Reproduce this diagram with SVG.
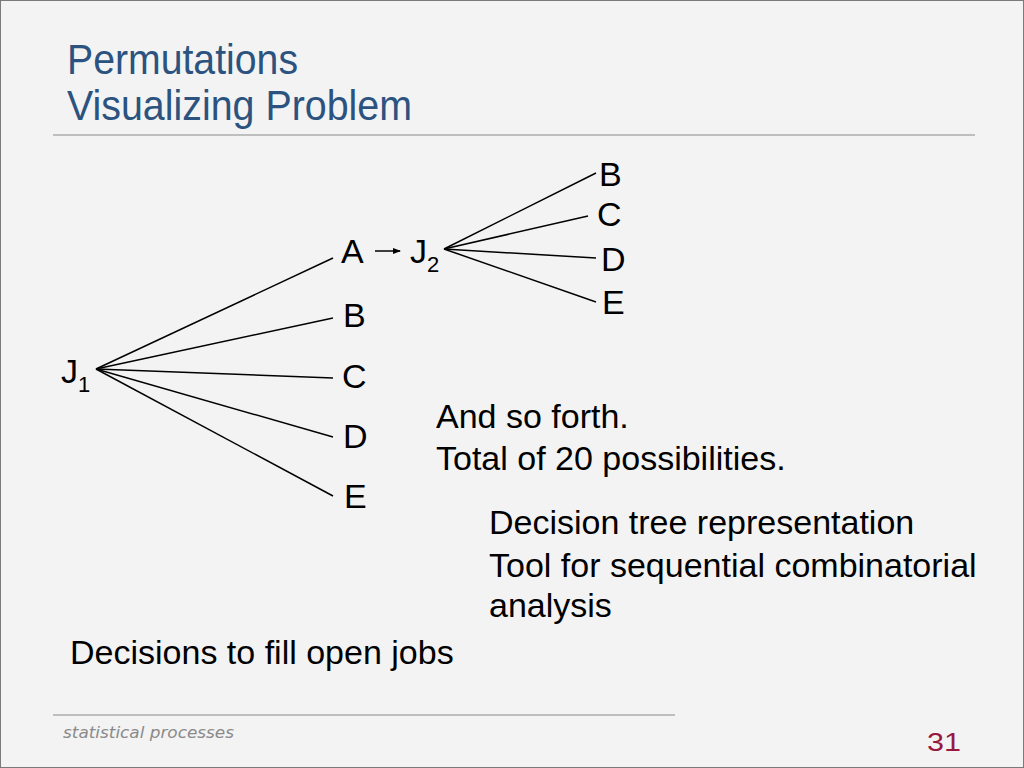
<svg xmlns="http://www.w3.org/2000/svg" width="1024" height="768" viewBox="0 0 1024 768">
<style>
.t{font-family:"Liberation Sans",Arial,sans-serif;font-size:34px;fill:#000}
.title{font-family:"Liberation Sans",Arial,sans-serif;font-size:42px;fill:#2c5380}
.sub{font-size:22px}
.edge{stroke:#000;stroke-width:1.5;fill:none}
</style>
<defs>
<marker id="ah" markerWidth="8" markerHeight="6" refX="7" refY="3" orient="auto" markerUnits="userSpaceOnUse">
<path d="M0,0 L8,3 L0,6 Z" fill="#000"/>
</marker>
</defs>
<rect x="0" y="0" width="1024" height="768" fill="#f3f3f3"/>
<rect x="0.5" y="0.5" width="1023" height="767" fill="none" stroke="#7a7a7a" stroke-width="1"/>
<g id="title">
<text class="title" x="67" y="74" textLength="231" lengthAdjust="spacingAndGlyphs">Permutations</text>
<text class="title" x="67" y="120" textLength="345" lengthAdjust="spacingAndGlyphs">Visualizing Problem</text>
<line x1="53" y1="135" x2="975" y2="135" stroke="#8a8a8a" stroke-width="1.2"/>
</g>
<g id="connectors">
<line class="edge" x1="96" y1="369" x2="333" y2="258"/>
<line class="edge" x1="96" y1="369" x2="333" y2="318"/>
<line class="edge" x1="96" y1="369" x2="333" y2="378"/>
<line class="edge" x1="96" y1="369" x2="333" y2="437"/>
<line class="edge" x1="96" y1="369" x2="333" y2="496"/>
<line class="edge" x1="444" y1="249" x2="596" y2="173"/>
<line class="edge" x1="444" y1="249" x2="588" y2="216"/>
<line class="edge" x1="444" y1="249" x2="596" y2="258"/>
<line class="edge" x1="444" y1="249" x2="596" y2="302"/>
<line class="edge" x1="375" y1="251" x2="400" y2="251" stroke-width="1.2" marker-end="url(#ah)"/>
</g>
<g id="node-J1"><text class="t" x="61" y="383">J<tspan class="sub" dy="9">1</tspan></text></g>
<g id="node-A"><text class="t" x="341" y="263">A</text></g>
<g id="node-B1"><text class="t" x="343" y="327">B</text></g>
<g id="node-C1"><text class="t" x="342" y="388">C</text></g>
<g id="node-D1"><text class="t" x="343" y="448">D</text></g>
<g id="node-E1"><text class="t" x="344" y="508">E</text></g>
<g id="node-J2"><text class="t" x="410" y="263">J<tspan class="sub" dy="9">2</tspan></text></g>
<g id="node-B2"><text class="t" x="599" y="186">B</text></g>
<g id="node-C2"><text class="t" x="597" y="226">C</text></g>
<g id="node-D2"><text class="t" x="601" y="271">D</text></g>
<g id="node-E2"><text class="t" x="602" y="314">E</text></g>
<g id="notes">
<text class="t" x="436" y="428">And so forth.</text>
<text class="t" x="436" y="470">Total of 20 possibilities.</text>
<text class="t" x="489" y="534">Decision tree representation</text>
<text class="t" x="489" y="577">Tool for sequential combinatorial</text>
<text class="t" x="489" y="617">analysis</text>
<text class="t" x="70" y="664">Decisions to fill open jobs</text>
</g>
<g id="footer">
<line x1="53" y1="715" x2="675" y2="715" stroke="#8a8a8a" stroke-width="1.2"/>
<text x="63" y="738" font-family="'DejaVu Sans','Liberation Sans',sans-serif" font-style="italic" font-size="16" fill="#8a8a8a" textLength="171" lengthAdjust="spacingAndGlyphs">statistical processes</text>
<text x="927" y="751" font-family="'Liberation Sans',Arial,sans-serif" font-size="26" fill="#99183f" textLength="34" lengthAdjust="spacingAndGlyphs">31</text>
</g>
</svg>
